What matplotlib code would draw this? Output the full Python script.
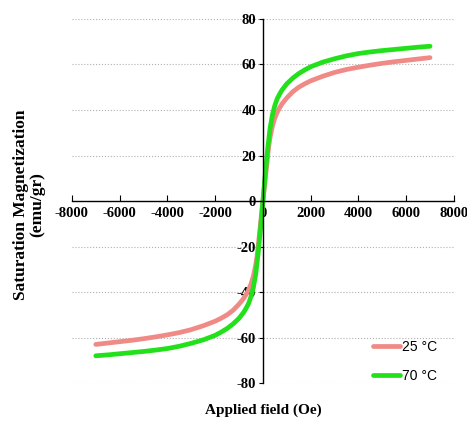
import matplotlib.pyplot as plt

# field (Oe) and magnetization (emu/gr), positive branch
field_pos = [0, 50, 100, 150, 200, 250, 300, 400, 500, 600, 700, 800, 1000, 1250, 1500, 1750,
             2000, 2500, 3000, 3500, 4000, 4500, 5000, 5500, 6000, 6500, 7000]
m25_pos = [0, 5, 10, 15, 20, 24.5, 28, 33, 36.5, 39, 41, 42.7, 45.3, 48, 50, 51.5,
           52.8, 54.8, 56.5, 57.8, 58.8, 59.7, 60.5, 61.2, 61.8, 62.4, 63]
m70_pos = [0, 6, 12, 17.5, 23, 27.5, 32, 38, 42, 45, 47, 48.8, 51.5, 54, 56, 57.6,
           59, 61, 62.5, 63.8, 64.8, 65.5, 66.1, 66.6, 67.1, 67.6, 68]

# the loop is symmetric: negative branch mirrors the positive one
field = [-f for f in field_pos[:0:-1]] + field_pos
m25 = [-m for m in m25_pos[:0:-1]] + m25_pos
m70 = [-m for m in m70_pos[:0:-1]] + m70_pos

x_ticks = list(range(-8000, 8001, 2000))
y_ticks = list(range(-80, 81, 20))

serif = 'Liberation Serif'
plt.rcParams['axes.unicode_minus'] = False

fig = plt.figure(figsize=(4.67, 4.21), dpi=100)
ax = fig.add_axes([0.154, 0.090, 0.818, 0.865])

for y in y_ticks:
    if y != 0:
        ax.axhline(y, color='#b0b0b0', linestyle=':', linewidth=0.8, zorder=0)

ax.plot(field, m25, color='#F08A86', linewidth=3.4, solid_capstyle='round', label='25 °C')
ax.plot(field, m70, color='#22E01A', linewidth=3.4, solid_capstyle='round', label='70 °C')

ax.set_xlim(-8000, 8000)
ax.set_ylim(-80, 80)
ax.set_xticks(x_ticks)
ax.set_yticks(y_ticks)

# axes cross at the origin
ax.spines['left'].set_position(('data', 0))
ax.spines['bottom'].set_position(('data', 0))
ax.spines['right'].set_visible(False)
ax.spines['top'].set_visible(False)
ax.spines['left'].set_linewidth(1.0)
ax.spines['bottom'].set_linewidth(1.0)

ax.tick_params(axis='x', direction='in', length=4, pad=4)
ax.tick_params(axis='y', direction='out', length=3, pad=2)
for lab in ax.get_xticklabels() + ax.get_yticklabels():
    lab.set_fontfamily(serif)
    lab.set_fontweight('bold')
    lab.set_fontsize(10.5)

fig.text(0.062, 0.513, 'Saturation Magnetization\n(emu/gr)', rotation=90,
         ha='center', va='center', fontfamily=serif, fontweight='bold', fontsize=12.5,
         linespacing=1.0)
fig.text(0.563, 0.026, 'Applied field (Oe)', ha='center', va='center',
         fontfamily=serif, fontweight='bold', fontsize=11)

leg = ax.legend(loc='lower right', bbox_to_anchor=(0.99, -0.035), frameon=False,
                prop={'family': 'Liberation Sans', 'size': 10},
                handlelength=2.0, handletextpad=0.15, labelspacing=1.1)

fig.savefig('out.png', dpi=100)
